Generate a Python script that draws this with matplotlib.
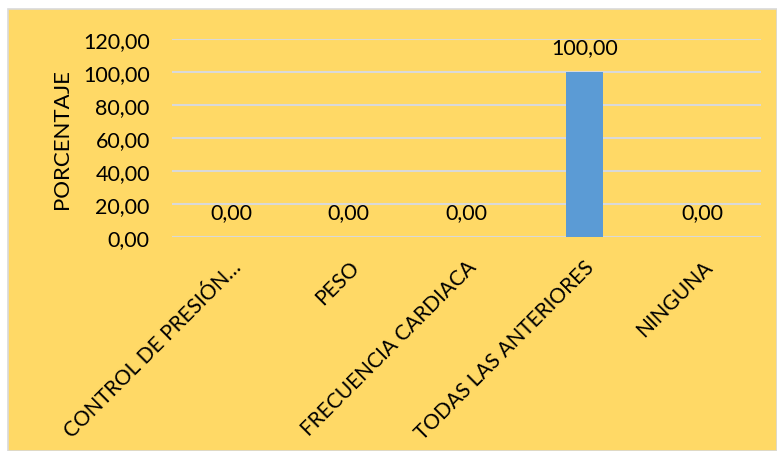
import matplotlib
matplotlib.use("Agg")
import matplotlib.pyplot as plt
from matplotlib.patches import Rectangle

categorias = ["CONTROL DE PRESIÓN…", "PESO", "FRECUENCIA CARDIACA",
              "TODAS LAS ANTERIORES", "NINGUNA"]
porcentajes = [0.00, 0.00, 0.00, 100.00, 0.00]
ticks_y = [0, 20, 40, 60, 80, 100, 120]

plt.rcParams['font.family'] = ['Lato', 'DejaVu Sans']

fondo = "#FFD966"
fig = plt.figure(figsize=(7.77, 4.52), dpi=100)
fig.patch.set_facecolor("white")
# chart area panel with thin gray border, kept behind the axes
fig.patches.append(Rectangle((8/777, 0), 1 - 8/777, 1 - 10/452,
                             transform=fig.transFigure, facecolor=fondo,
                             edgecolor="#D9D9D9", linewidth=1.2, zorder=-10))

ax = fig.add_axes([172/777, 1 - 238/452, (761 - 172)/777, (238 - 40)/452])
ax.set_facecolor("none")

x = range(len(categorias))
ax.bar(x, porcentajes, width=0.31, color="#5B9BD5", zorder=3)
for xi, v in zip(x, porcentajes):
    ax.annotate(f"{v:.2f}".replace(".", ","), (xi, v), xytext=(0, 18),
                textcoords="offset points", ha="center", va="center",
                fontsize=15.5, color="black")

ax.set_ylim(0, 120)
ax.set_xlim(-0.5, len(categorias) - 0.5)
ax.set_yticks(ticks_y)
ax.set_yticklabels([f"{t:.2f}".replace(".", ",") for t in ticks_y], fontsize=15.5)
ax.yaxis.grid(True, color="#D9D9D9", linewidth=1.5, zorder=0)
ax.set_axisbelow(True)
ax.set_xticks(list(x))
ax.set_xticklabels(categorias, rotation=45, ha="right", rotation_mode="anchor",
                   fontsize=15)
ax.tick_params(axis="y", length=0, pad=16)
ax.tick_params(axis="x", length=0, pad=14)
for s in ax.spines.values():
    s.set_visible(False)
ax.set_ylabel("PORCENTAJE", fontsize=16, labelpad=8)

fig.savefig("out.png", dpi=100, facecolor=fig.get_facecolor())
